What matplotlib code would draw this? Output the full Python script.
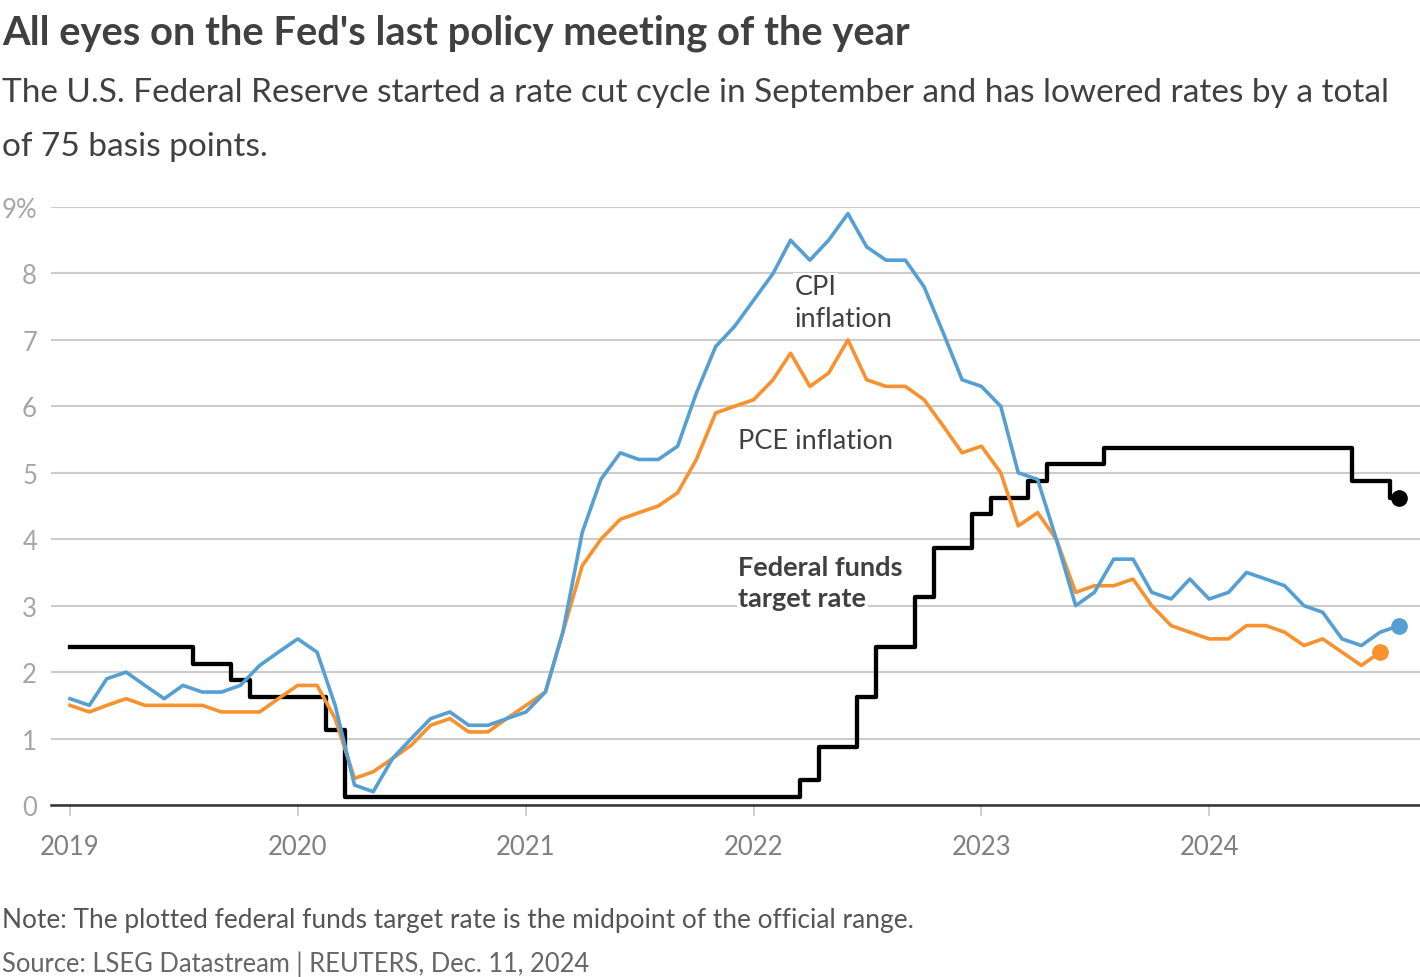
import pandas as pd
import matplotlib
matplotlib.use('Agg')
import matplotlib.pyplot as plt
import matplotlib.dates as mdates

plt.rcParams['font.family'] = ['Lato', 'DejaVu Sans']

# monthly data, Jan 2019 onwards
cpi = [1.6, 1.5, 1.9, 2.0, 1.8, 1.6, 1.8, 1.7, 1.7, 1.8, 2.1, 2.3,
       2.5, 2.3, 1.5, 0.3, 0.2, 0.7, 1.0, 1.3, 1.4, 1.2, 1.2, 1.3,
       1.4, 1.7, 2.6, 4.1, 4.9, 5.3, 5.2, 5.2, 5.4, 6.2, 6.9, 7.2,
       7.6, 8.0, 8.5, 8.2, 8.5, 8.9, 8.4, 8.2, 8.2, 7.8, 7.1, 6.4,
       6.3, 6.0, 5.0, 4.9, 4.0, 3.0, 3.2, 3.7, 3.7, 3.2, 3.1, 3.4,
       3.1, 3.2, 3.5, 3.4, 3.3, 3.0, 2.9, 2.5, 2.4, 2.6, 2.7]
pce = [1.5, 1.4, 1.5, 1.6, 1.5, 1.5, 1.5, 1.5, 1.4, 1.4, 1.4, 1.6,
       1.8, 1.8, 1.3, 0.4, 0.5, 0.7, 0.9, 1.2, 1.3, 1.1, 1.1, 1.3,
       1.5, 1.7, 2.6, 3.6, 4.0, 4.3, 4.4, 4.5, 4.7, 5.2, 5.9, 6.0,
       6.1, 6.4, 6.8, 6.3, 6.5, 7.0, 6.4, 6.3, 6.3, 6.1, 5.7, 5.3,
       5.4, 5.0, 4.2, 4.4, 4.0, 3.2, 3.3, 3.3, 3.4, 3.0, 2.7, 2.6,
       2.5, 2.5, 2.7, 2.7, 2.6, 2.4, 2.5, 2.3, 2.1, 2.3]
fed = [2.375] * 7 + [2.125] * 2 + [1.875] + [1.625] * 2 + \
      [1.625] * 2 + [1.125] + [0.125] * 9 + \
      [0.125] * 12 + \
      [0.125] * 3 + [0.375] + [0.875] * 2 + [1.625] + [2.375] * 2 + [3.125] + [3.875] * 2 + \
      [4.375] + [4.625] * 2 + [4.875] + [5.125] * 3 + [5.375] * 5 + \
      [5.375] * 8 + [4.875] * 2 + [4.625]

d_cpi = pd.date_range('2019-01-01', periods=len(cpi), freq='MS')
d_pce = pd.date_range('2019-01-01', periods=len(pce), freq='MS')
d_fed = pd.date_range('2019-01-01', periods=len(fed), freq='MS')

years = [2019, 2020, 2021, 2022, 2023, 2024]
yticks = [0, 1, 2, 3, 4, 5, 6, 7, 8, 9]
ylabels = ['0', '1', '2', '3', '4', '5', '6', '7', '8', '9%']

blue = '#569fd3'
orange = '#f7922e'
txt = '#404040'

W, H = 1420, 978
fig = plt.figure(figsize=(W / 100, H / 100), dpi=100)
ax = fig.add_axes([51 / W, 1 - 806 / H, 1 - 51 / W, (806 - 208) / H])

ax.plot(d_fed, fed, color='black', lw=3.1, drawstyle='steps-mid', zorder=3)
ax.plot(d_pce, pce, color=orange, lw=2.6, zorder=4)
ax.plot(d_cpi, cpi, color=blue, lw=2.6, zorder=5)
ax.plot(d_fed[-1:], fed[-1:], 'o', color='black', ms=11, zorder=6, clip_on=False)
ax.plot(d_pce[-1:], pce[-1:], 'o', color=orange, ms=11, zorder=6, clip_on=False)
ax.plot(d_cpi[-1:], cpi[-1:], 'o', color=blue, ms=11, zorder=6, clip_on=False)

x0 = mdates.date2num(pd.Timestamp('2019-01-01'))
x1 = mdates.date2num(pd.Timestamp('2024-12-04'))
ax.set_xlim(x0 - 30.5, x1)
ax.set_ylim(0, 9.0)

ax.set_yticks(yticks)
ax.set_yticklabels(ylabels)
ax.set_xticks([pd.Timestamp(f'{y}-01-01') for y in years])
ax.set_xticklabels([str(y) for y in years])

for s in ['top', 'right', 'left']:
    ax.spines[s].set_visible(False)
ax.spines['bottom'].set_color('#333333')
ax.spines['bottom'].set_linewidth(1.8)
ax.spines['bottom'].set_zorder(2)

ax.yaxis.grid(True, color='#cccccc', lw=1.5, zorder=0)
ax.set_axisbelow(True)
ax.tick_params(axis='y', length=0, pad=10, labelsize=18.5, labelcolor='#a6a6a6')
ax.tick_params(axis='x', length=8, width=1.2, color='#c8c8c8', pad=13,
               labelsize=18.5, labelcolor='#808080')

# series labels
bb = dict(facecolor='white', edgecolor='none', pad=1)
fs = 19.5
ax.text(pd.Timestamp('2022-03-07'), 7.69, 'CPI', fontsize=fs, color=txt,
        va='baseline', bbox=bb, zorder=1)
ax.text(pd.Timestamp('2022-03-07'), 7.21, 'inflation', fontsize=fs, color=txt,
        va='baseline', bbox=bb, zorder=1)
ax.text(pd.Timestamp('2021-12-07'), 5.38, 'PCE inflation', fontsize=fs, color=txt,
        va='baseline', bbox=bb, zorder=1)
ax.text(pd.Timestamp('2021-12-07'), 3.46, 'Federal funds', fontsize=fs, color=txt,
        fontweight='bold', va='baseline', bbox=bb, zorder=1)
ax.text(pd.Timestamp('2021-12-07'), 3.00, 'target rate', fontsize=fs, color=txt,
        fontweight='bold', va='baseline', bbox=bb, zorder=1)

fig.text(2 / W, 1 - 45 / H, "All eyes on the Fed's last policy meeting of the year",
         fontsize=28.7, fontweight='bold', color=txt, va='baseline')
fig.text(2 / W, 1 - 102 / H,
         'The U.S. Federal Reserve started a rate cut cycle in September and has lowered rates by a total',
         fontsize=24, color=txt, va='baseline')
fig.text(2 / W, 1 - 156 / H, 'of 75 basis points.',
         fontsize=24, color=txt, va='baseline')
fig.text(2 / W, 1 - 928 / H,
         'Note: The plotted federal funds target rate is the midpoint of the official range.',
         fontsize=18.9, color='#555555', va='baseline')
fig.text(2 / W, 1 - 972 / H, 'Source: LSEG Datastream | REUTERS, Dec. 11, 2024',
         fontsize=18.4, color='#666666', va='baseline')

fig.savefig('out.png', dpi=100)
